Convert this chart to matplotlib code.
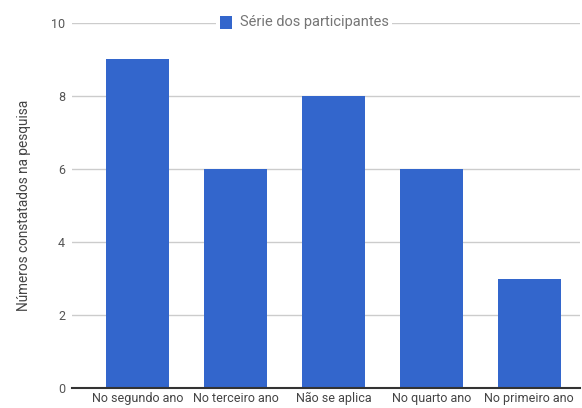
import matplotlib.pyplot as plt
from matplotlib.patches import Rectangle

categorias = ["No segundo ano", "No terceiro ano", "Não se aplica", "No quarto ano", "No primeiro ano"]
valores = [9, 6, 8, 6, 3]
yticks = [0, 2, 4, 6, 8, 10]

plt.rcParams['font.family'] = ['Roboto', 'DejaVu Sans']

fig = plt.figure(figsize=(5.82, 4.08), dpi=100)
ax = fig.add_axes([72 / 582, 20 / 408, 508 / 582, 365 / 408])

x = list(range(len(categorias)))
ax.bar(x, valores, width=0.645, color='#3366CC', zorder=3)

ax.set_xlim(-0.67, 4.52)
ax.set_ylim(0, 10)
ax.set_yticks(yticks)
ax.set_yticklabels([str(v) for v in yticks])
ax.set_xticks(x)
ax.set_xticklabels(categorias)

ax.grid(axis='y', color='#cccccc', linewidth=1, zorder=0)
ax.axhline(0, color='#333333', linewidth=1.5, zorder=4, clip_on=False)
for s in ax.spines.values():
    s.set_visible(False)
ax.tick_params(axis='both', length=0, labelsize=9, colors='#444444')
ax.tick_params(axis='y', pad=5, colors='#555555')
ax.tick_params(axis='x', pad=3)

ax.set_ylabel("Números constatados na pesquisa", fontsize=9.8, color='#444444', labelpad=14)

# legenda no topo, sobre a linha de grade do 10
leg_y = (408 - 22) / 408
fig.patches.append(Rectangle((216 / 582, leg_y - 8 / 408), 176 / 582, 16 / 408,
                             transform=fig.transFigure, facecolor='white', edgecolor='none', zorder=5))
fig.patches.append(Rectangle((220 / 582, leg_y - 6.5 / 408), 12 / 582, 13 / 408,
                             transform=fig.transFigure, facecolor='#3366CC', edgecolor='none', zorder=6))
fig.text(240 / 582, leg_y, "Série dos participantes", fontsize=10.5, color='#757575',
         va='center', ha='left', zorder=6)

fig.savefig("out.png", dpi=100)
